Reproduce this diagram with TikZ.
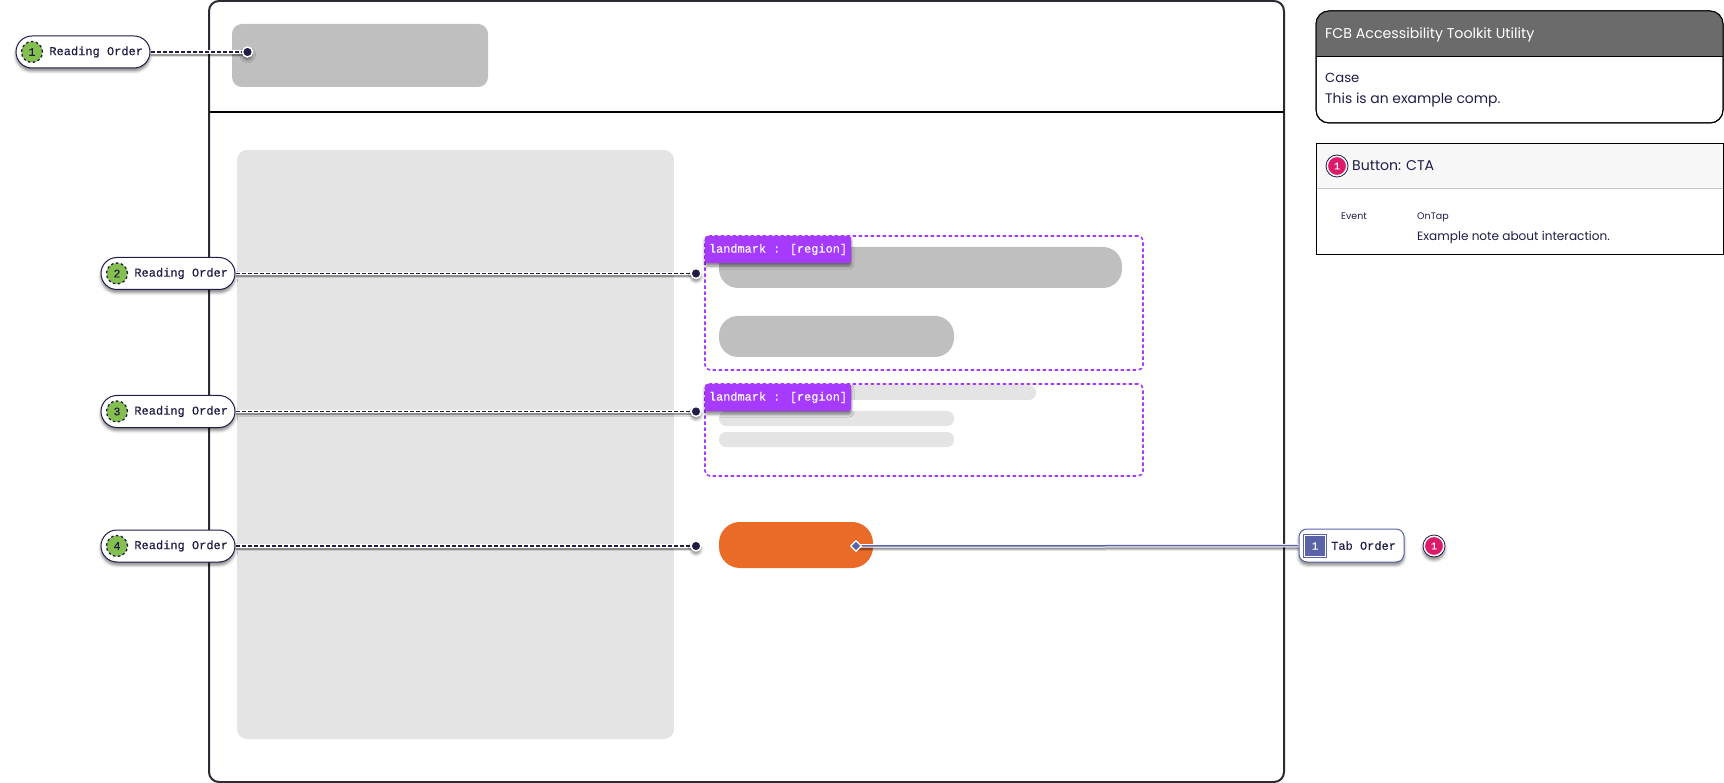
\documentclass[tikz,border=0pt]{standalone}
\usepackage{fontspec}
\setmainfont{Poppins}
\newfontfamily\ordermono[FakeBold=0.2]{Liberation Mono}
\usetikzlibrary{positioning,shadows,shadows.blur,shapes.geometric}
\definecolor{inkblue}{HTML}{1F1D47}
\definecolor{framegrey}{HTML}{2B2B33}
\definecolor{midgrey}{HTML}{BFBFBF}
\definecolor{softgrey}{HTML}{E4E4E4}
\definecolor{headgrey}{HTML}{6B6B6B}
\definecolor{landpurple}{HTML}{A63AFF}
\definecolor{ordergreen}{HTML}{84BF4F}
\definecolor{taborange}{HTML}{EA6A28}
\definecolor{tabblue}{HTML}{5A63A8}
\definecolor{notepink}{HTML}{DC1A6A}
\tikzset{
  softshadow/.style={blur shadow={shadow xshift=0pt,shadow yshift=-3pt,shadow blur radius=3pt,shadow opacity=50}},
  lineshadow/.style={preaction={draw=black,draw opacity=.12,solid,line width=5pt,transform canvas={yshift=-2.5pt}},preaction={draw=black,draw opacity=.3,solid,line width=2.5pt,transform canvas={yshift=-2.5pt}},preaction={draw=white,solid,line width=3.5pt}},
  block/.style={fill=#1,inner sep=0pt,outer sep=0pt},
  orderpill/.style={draw=inkblue,fill=white,line width=1pt,rounded corners=16pt,minimum height=32pt,inner ysep=0pt,inner xsep=7pt,text width=120pt,align=flush right,text=inkblue,font=\ordermono\fontsize{12}{13}\selectfont,outer sep=1pt,softshadow},
  ordernum/.style={circle,fill=ordergreen,draw=inkblue,line width=1.3pt,dash pattern=on 2.5pt off 2.5pt,minimum size=21pt,inner sep=0pt,text=inkblue,font=\ordermono\fontsize{11.5}{13}\selectfont},
  orderdot/.style={circle,fill=inkblue,draw=white,line width=1.5pt,minimum size=10pt,inner sep=0pt},
  orderline/.style={draw=inkblue,line width=1.5pt,dash pattern=on 4pt off 2pt,lineshadow},
  tabline/.style={draw=tabblue,line width=1.5pt,lineshadow},
  tabdiamond/.style={diamond,fill=tabblue,draw=white,line width=1.2pt,minimum size=11pt,inner sep=0pt},
  landbox/.style={draw=landpurple,line width=1.6pt,dash pattern=on 3.5pt off 2.5pt,rounded corners=5pt,minimum width=438pt,inner sep=0pt},
  landtag/.style={fill=landpurple,rounded corners=2pt,minimum width=146pt,minimum height=27pt,inner sep=0pt,text=white,font=\ordermono\fontsize{11.9}{13}\selectfont,softshadow},
  panelbox/.style={draw=black,line width=1pt,minimum width=407pt,inner sep=0pt},
  paneltext/.style={anchor=base west,inner sep=0pt,text=inkblue},
  notenum/.style={circle,fill=notepink,draw=white,line width=1pt,minimum size=19pt,inner sep=0pt,text=white,font=\ordermono\fontsize{10}{12}\selectfont},
  notering/.style={circle,draw=inkblue,line width=.8pt,minimum size=22pt,inner sep=0pt}
}
\begin{document}
\begin{tikzpicture}[x=1pt,y=-1pt]
  \useasboundingbox (0,0) rectangle (1724,783);
  % wireframe
  \node[draw=framegrey,line width=2pt,rounded corners=10pt,minimum width=1075pt,minimum height=781pt,inner sep=0pt] (frame) at (746.5,391.5) {};
  \coordinate (divleft) at (209,112);
  \coordinate (divright) at (1284,112);
  \draw[black,line width=2pt] (divleft) -- (divright);
  \node[block=midgrey,rounded corners=10pt,minimum width=256pt,minimum height=63pt] (logo) at (360,55.5) {};
  \node[block=softgrey,rounded corners=10pt,minimum width=437pt,minimum height=589pt] (sidebar) at (455.5,444.5) {};
  \node[block=midgrey,rounded corners=19pt,minimum width=403pt,minimum height=41pt] (bar1) at (920.5,267.5) {};
  \node[block=midgrey,rounded corners=19pt,minimum width=235pt,minimum height=41pt] (bar2) at (836.5,336.5) {};
  \node[block=softgrey,rounded corners=7pt,minimum width=317pt,minimum height=15pt] (line1) at (877.5,392.5) {};
  \node[block=softgrey,rounded corners=7pt,minimum width=235pt,minimum height=15pt] (line2) at (836.5,418.5) {};
  \node[block=softgrey,rounded corners=7pt,minimum width=235pt,minimum height=15pt] (line3) at (836.5,439.5) {};
  \node[block=taborange,rounded corners=21pt,minimum width=154pt,minimum height=46pt] (cta) at (796,545) {};
  % landmarks
  \node[landbox,minimum height=134pt] (land1) at (924,303) {};
  \node[landbox,minimum height=92pt] (land2) at (924,430) {};
  % reading order
  \node[orderpill,minimum width=134pt] (pill1) at (83,52) {Reading Order};
  \node[orderpill,minimum width=134pt] (pill2) at (168,273.5) {Reading Order};
  \node[orderpill,minimum width=134pt] (pill3) at (168,411.5) {Reading Order};
  \node[orderpill,minimum width=134pt] (pill4) at (168,546) {Reading Order};
  \node[ordernum] (num1) at (32,52) {1};
  \node[ordernum] (num2) at (117,273.5) {2};
  \node[ordernum] (num3) at (117,411.5) {3};
  \node[ordernum] (num4) at (117,546) {4};
  \coordinate (end1) at (247.5,52);
  \coordinate (end2) at (696,273.5);
  \coordinate (end3) at (696,411.5);
  \coordinate (end4) at (696,546);
  \path[orderline] (pill1) -- (end1);
  \path[orderline] (pill2) -- (end2);
  \path[orderline] (pill3) -- (end3);
  \path[orderline] (pill4) -- (end4);
  \node[orderdot,softshadow] (dot1) at (end1) {};
  \node[orderdot,softshadow] (dot2) at (end2) {};
  \node[orderdot,softshadow] (dot3) at (end3) {};
  \node[orderdot,softshadow] (dot4) at (end4) {};
  \node[landtag] (tag1) at (778,249.5) {landmark : [region]};
  \node[landtag] (tag2) at (778,397.5) {landmark : [region]};
  % tab order
  \coordinate (tabend) at (856,546);
  \node[draw=tabblue,fill=white,line width=1pt,rounded corners=8pt,minimum width=105pt,minimum height=33pt,inner ysep=0pt,inner xsep=8pt,text width=89pt,align=flush right,text=inkblue,font=\ordermono\fontsize{12}{13}\selectfont,softshadow] (tabpill) at (1351.5,545.5) {Tab Order};
  \path[tabline] (tabend) -- (tabpill);
  \node[tabdiamond] (tabdot) at (tabend) {};
  \node[fill=tabblue,draw=tabblue,double=white,double distance=.8pt,line width=.7pt,minimum size=21pt,inner sep=0pt,text=white,font=\ordermono\fontsize{11}{13}\selectfont] (tabnum) at (1315,546) {1};
  \node[notering,fill=white,softshadow] (ring1) at (1434,546) {};
  \node[notenum] (note1) at (ring1) {1};
  % utility panels
  \node[panelbox,rounded corners=13pt,fill=white,minimum height=112pt] (casepanel) at (1519.5,67) {};
  \fill[headgrey] (1316,57) [rounded corners=13pt] -- (1316,11) -- (1723,11) [sharp corners] -- (1723,57) -- cycle;
  \node[panelbox,rounded corners=13pt,minimum height=112pt] (caseoutline) at (1519.5,67) {};
  \coordinate (headleft) at (1316,57);
  \coordinate (headright) at (1723,57);
  \draw[black,line width=1pt] (headleft) -- (headright);
  \node[paneltext,text=white,font=\fontsize{14.2}{18}\selectfont] (utiltitle) at (1325,39) {FCB Accessibility Toolkit Utility};
  \node[paneltext,font=\fontsize{13.2}{16}\selectfont] (casetitle) at (1325,83) {Case};
  \node[paneltext,font=\fontsize{13.9}{16}\selectfont] (casenote) at (1325,104) {This is an example comp.};
  \node[panelbox,fill=white,minimum height=111pt] (notepanel) at (1519.5,199) {};
  \fill[black!3] (1316.5,144) rectangle (1722.5,188);
  \coordinate (sepleft) at (1316.5,188.5);
  \coordinate (sepright) at (1722.5,188.5);
  \draw[inkblue!25,line width=1pt] (sepleft) -- (sepright);
  \node[notering] (ring2) at (1337,166) {};
  \node[notenum] (note2) at (ring2) {1};
  \node[paneltext,font=\fontsize{14.1}{16}\selectfont] (notetitle) at (1352,171) {Button: CTA};
  \node[paneltext,font=\fontsize{9.5}{12}\selectfont] (eventlabel) at (1341,220) {Event};
  \node[paneltext,font=\fontsize{9.5}{12}\selectfont] (eventname) at (1417,220) {OnTap};
  \node[paneltext,font=\fontsize{12.1}{14}\selectfont] (eventnote) at (1417,241) {Example note about interaction.};
\end{tikzpicture}
\end{document}
